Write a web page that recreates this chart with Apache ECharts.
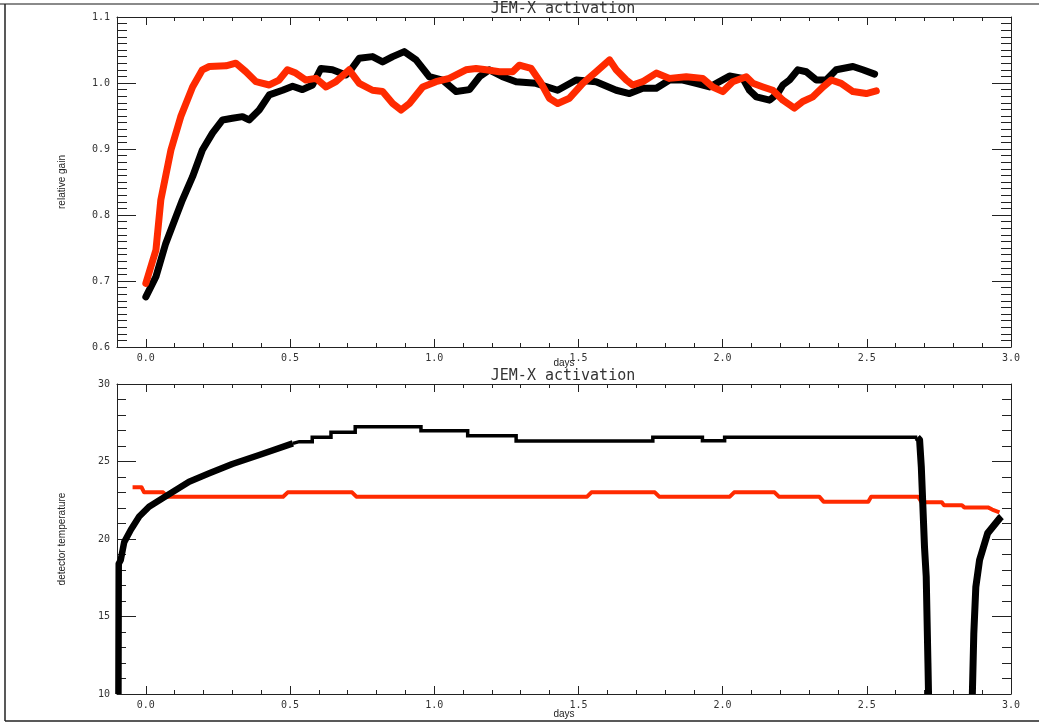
<!DOCTYPE html>
<html>
<head>
<meta charset="utf-8">
<script src="https://cdn.jsdelivr.net/npm/echarts@6/dist/echarts.min.js"></script>
<style>html,body{margin:0;padding:0;background:#fff;}#c{width:1039px;height:722px;}</style>
</head>
<body>
<div id="c"></div>
<script>
// ---------- data ----------
var titleText = 'JEM-X activation';
var xName = 'days';
var topYName = 'relative gain';
var botYName = 'detector temperature';
var xMajorTicks = [0.0, 0.5, 1.0, 1.5, 2.0, 2.5, 3.0];
var xMinorTicks = [0.1, 0.2, 0.3, 0.4, 0.6, 0.7, 0.8, 0.9, 1.1, 1.2, 1.3, 1.4, 1.6, 1.7, 1.8, 1.9, 2.1, 2.2, 2.3, 2.4, 2.6, 2.7, 2.8, 2.9];

var gainBlack = [[0.0,0.676],[0.035,0.7065],[0.069,0.757],[0.104,0.797],[0.127,0.823],[0.162,0.858],[0.196,0.8985],[0.231,0.924],[0.266,0.944],[0.30,0.9465],[0.335,0.949],[0.358,0.944],[0.393,0.959],[0.428,0.982],[0.474,0.989],[0.509,0.995],[0.543,0.990],[0.578,0.997],[0.607,1.022],[0.647,1.020],[0.694,1.012],[0.706,1.017],[0.74,1.0375],[0.786,1.040],[0.821,1.032],[0.856,1.040],[0.896,1.0475],[0.937,1.035],[0.983,1.0095],[1.029,1.0045],[1.076,0.987],[1.122,0.990],[1.157,1.0095],[1.191,1.020],[1.237,1.0095],[1.284,1.002],[1.353,0.9995],[1.428,0.989],[1.492,1.0045],[1.561,1.002],[1.631,0.989],[1.677,0.984],[1.723,0.992],[1.77,0.992],[1.816,1.0045],[1.862,1.0045],[1.908,0.9995],[1.955,0.994],[1.989,1.002],[2.024,1.0105],[2.07,1.007],[2.093,0.989],[2.117,0.979],[2.163,0.974],[2.191,0.984],[2.209,0.997],[2.232,1.0045],[2.261,1.020],[2.29,1.017],[2.325,1.0045],[2.359,1.0045],[2.394,1.020],[2.452,1.025],[2.486,1.020],[2.527,1.0135]];

var gainRed = [[0.0,0.6965],[0.035,0.747],[0.052,0.823],[0.087,0.8985],[0.121,0.949],[0.162,0.994],[0.196,1.020],[0.22,1.025],[0.278,1.026],[0.312,1.030],[0.347,1.017],[0.382,1.002],[0.428,0.997],[0.462,1.0045],[0.491,1.020],[0.520,1.015],[0.555,1.0045],[0.59,1.007],[0.625,0.994],[0.659,1.002],[0.705,1.020],[0.74,0.9995],[0.786,0.989],[0.821,0.987],[0.856,0.969],[0.885,0.959],[0.914,0.969],[0.96,0.994],[1.006,1.002],[1.052,1.007],[1.11,1.020],[1.145,1.022],[1.18,1.020],[1.226,1.017],[1.272,1.017],[1.295,1.027],[1.336,1.022],[1.371,0.9995],[1.399,0.977],[1.428,0.969],[1.469,0.977],[1.515,0.9995],[1.561,1.017],[1.608,1.035],[1.631,1.020],[1.666,1.0045],[1.688,0.997],[1.723,1.002],[1.77,1.015],[1.816,1.007],[1.874,1.0095],[1.931,1.007],[1.966,0.994],[2.001,0.987],[2.035,1.002],[2.082,1.0095],[2.105,0.9995],[2.14,0.994],[2.174,0.989],[2.209,0.974],[2.249,0.962],[2.278,0.972],[2.313,0.979],[2.348,0.994],[2.377,1.0045],[2.411,0.9995],[2.452,0.987],[2.498,0.984],[2.533,0.988]];

var tempBlackRamp = [[-0.095,10],[-0.094,18.4],[-0.087,18.65],[-0.075,19.8],[-0.052,20.6],[-0.023,21.45],[0.011,22.08],[0.058,22.63],[0.104,23.16],[0.15,23.7],[0.22,24.24],[0.30,24.84],[0.393,25.42],[0.51,26.17]];
var tempBlackPlateau = [[0.51,26.17],[0.532,26.28],[0.577,26.28],[0.577,26.56],[0.642,26.56],[0.642,26.88],[0.726,26.88],[0.726,27.25],[0.954,27.25],[0.954,26.99],[1.116,26.99],[1.116,26.66],[1.284,26.66],[1.284,26.32],[1.758,26.32],[1.758,26.56],[1.93,26.56],[1.93,26.34],[2.007,26.34],[2.007,26.56],[2.675,26.56]];
var tempBlackDrop = [[2.675,26.56],[2.683,26.4],[2.689,24.66],[2.700,19.5],[2.706,17.57],[2.712,12],[2.714,10]];
var tempBlackRecovery = [[2.866,10],[2.871,13.9],[2.878,16.9],[2.891,18.65],[2.919,20.37],[2.961,21.34],[2.967,21.44]];
var tempRed = [[-0.046,23.34],[-0.015,23.34],[-0.006,23.01],[0.06,23.01],[0.075,22.73],[0.476,22.73],[0.492,23.01],[0.715,23.01],[0.73,22.73],[1.53,22.73],[1.545,23.01],[1.765,23.01],[1.78,22.73],[2.025,22.73],[2.04,23.01],[2.18,23.01],[2.195,22.73],[2.335,22.73],[2.35,22.41],[2.505,22.41],[2.515,22.73],[2.678,22.73],[2.69,22.37],[2.76,22.37],[2.768,22.17],[2.83,22.17],[2.838,22.04],[2.92,22.04],[2.935,21.9],[2.96,21.72]];

// ---------- styles ----------
var RED = '#ff2a00';
var AX = '#222';
var tickFont = {color: '#333', fontSize: 10, fontFamily: 'DejaVu Sans Mono'};
var nameFont = {color: '#222', fontSize: 10, fontFamily: 'Liberation Sans'};

function xAxes(gi, gap) {
  return [
    {gridIndex: gi, type: 'value', min: -0.1, max: 3.0, position: 'bottom',
     name: xName, nameLocation: 'middle', nameGap: gap, nameMoveOverlap: false, nameTextStyle: nameFont,
     axisLine: {onZero: false, lineStyle: {color: AX, width: 1}},
     axisTick: {inside: true, length: 8, customValues: xMajorTicks, lineStyle: {color: AX}},
     axisLabel: Object.assign({customValues: xMajorTicks, margin: 6, formatter: function (v) { return v.toFixed(1); }}, tickFont),
     splitLine: {show: false}},
    {gridIndex: gi, type: 'value', min: -0.1, max: 3.0, position: 'bottom',
     axisLine: {show: false, onZero: false},
     axisTick: {inside: true, length: 4, customValues: xMinorTicks, lineStyle: {color: AX}},
     axisLabel: {show: false}, splitLine: {show: false}},
    {gridIndex: gi, type: 'value', min: -0.1, max: 3.0, position: 'top',
     axisLine: {onZero: false, lineStyle: {color: AX, width: 1}},
     axisTick: {inside: true, length: 8, customValues: xMajorTicks, lineStyle: {color: AX}},
     axisLabel: {show: false}, splitLine: {show: false}},
    {gridIndex: gi, type: 'value', min: -0.1, max: 3.0, position: 'top',
     axisLine: {show: false, onZero: false},
     axisTick: {inside: true, length: 4, customValues: xMinorTicks, lineStyle: {color: AX}},
     axisLabel: {show: false}, splitLine: {show: false}}
  ];
}
function yAxes(gi, min, max, interval, minorSplit, minorLen, name, fmt) {
  var base = {gridIndex: gi, type: 'value', min: min, max: max, interval: interval,
    axisLine: {show: true, onZero: false, lineStyle: {color: AX, width: 1}},
    axisTick: {show: true, inside: true, length: 19, lineStyle: {color: AX}},
    minorTick: {show: true, splitNumber: minorSplit, length: minorLen, lineStyle: {color: AX}},
    splitLine: {show: false}, minorSplitLine: {show: false}};
  return [
    Object.assign({}, base, {position: 'left', name: name, nameLocation: 'middle', nameGap: 50, nameMoveOverlap: false,
      nameTextStyle: nameFont,
      axisLabel: Object.assign({margin: 7, formatter: fmt}, tickFont)}),
    Object.assign({}, base, {position: 'right', axisLabel: {show: false}})
  ];
}

var chart = echarts.init(document.getElementById('c'), null, {renderer: 'canvas'});
chart.setOption({
  animation: false,
  backgroundColor: '#fff',
  grid: [
    {left: 117, top: 17, width: 894, height: 330},
    {left: 117, top: 384, width: 894, height: 310}
  ],
  xAxis: xAxes(0, 11).concat(xAxes(1, 15)),
  yAxis: yAxes(0, 0.6, 1.1, 0.1, 10, 10, topYName, function (v) { return v.toFixed(1); })
    .concat(yAxes(1, 10, 30, 5, 5, 9, botYName, function (v) { return String(Math.round(v)); })),
  graphic: [
    {type: 'line', shape: {x1: 0, y1: 4, x2: 1039, y2: 4}, style: {stroke: '#8a8a8a', lineWidth: 2}, silent: true},
    {type: 'line', shape: {x1: 5, y1: 4, x2: 5, y2: 721}, style: {stroke: '#222', lineWidth: 1.5}, silent: true},
    {type: 'line', shape: {x1: 5, y1: 721, x2: 1039, y2: 721}, style: {stroke: '#222', lineWidth: 1.5}, silent: true},
    {type: 'text', x: 563, y: 9, style: {text: titleText, fill: '#333', font: '15px "DejaVu Sans Mono"', textAlign: 'center', textVerticalAlign: 'middle'}, silent: true},
    {type: 'text', x: 563, y: 376, style: {text: titleText, fill: '#333', font: '15px "DejaVu Sans Mono"', textAlign: 'center', textVerticalAlign: 'middle'}, silent: true}
  ],
  series: [
    {type: 'line', name: 'gain black', xAxisIndex: 0, yAxisIndex: 0, data: gainBlack, showSymbol: false, symbol: 'none',
     lineStyle: {color: '#000', width: 7, join: 'round', cap: 'round'}, z: 3},
    {type: 'line', name: 'gain red', xAxisIndex: 0, yAxisIndex: 0, data: gainRed, showSymbol: false, symbol: 'none',
     lineStyle: {color: RED, width: 7, join: 'round', cap: 'round'}, z: 4},
    {type: 'line', name: 'temp red', xAxisIndex: 4, yAxisIndex: 2, data: tempRed, showSymbol: false, symbol: 'none',
     lineStyle: {color: RED, width: 4, join: 'round'}, z: 3},
    {type: 'line', name: 'temp ramp', xAxisIndex: 4, yAxisIndex: 2, data: tempBlackRamp, showSymbol: false, symbol: 'none',
     lineStyle: {color: '#000', width: 6.5, join: 'round'}, z: 4},
    {type: 'line', name: 'temp plateau', xAxisIndex: 4, yAxisIndex: 2, data: tempBlackPlateau, showSymbol: false, symbol: 'none',
     lineStyle: {color: '#000', width: 3.5, join: 'miter'}, z: 4},
    {type: 'line', name: 'temp drop', xAxisIndex: 4, yAxisIndex: 2, data: tempBlackDrop, showSymbol: false, symbol: 'none',
     lineStyle: {color: '#000', width: 7, join: 'round'}, z: 4},
    {type: 'line', name: 'temp recovery', xAxisIndex: 4, yAxisIndex: 2, data: tempBlackRecovery, showSymbol: false, symbol: 'none',
     lineStyle: {color: '#000', width: 7, join: 'round'}, z: 4}
  ]
});
</script>
</body>
</html>
